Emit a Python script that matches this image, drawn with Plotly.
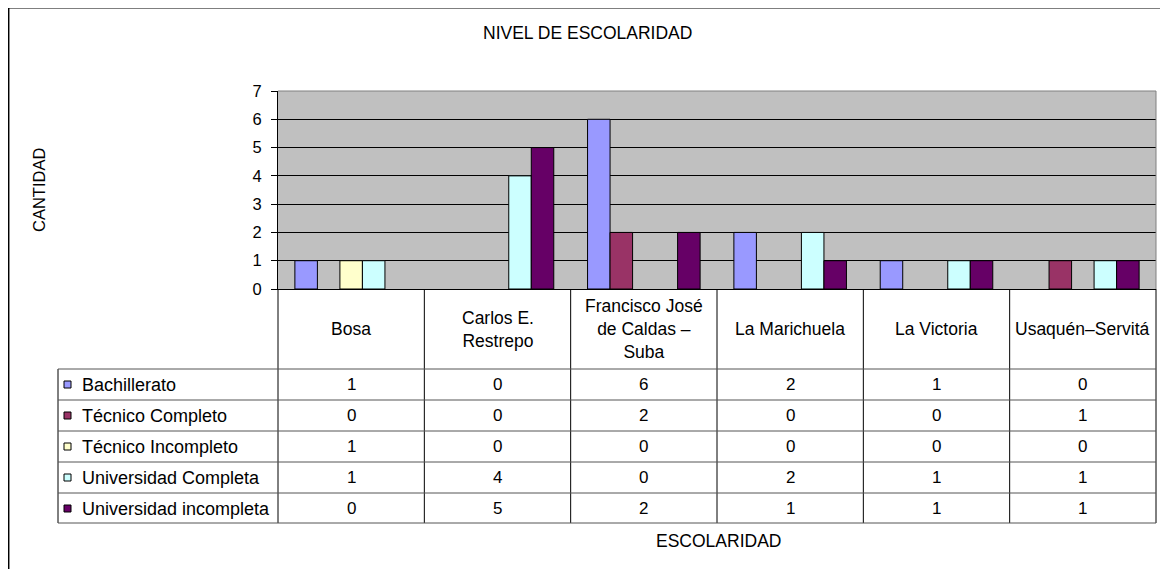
import plotly.graph_objects as go

# ---------------- data ----------------
categories = ["Bosa", "Carlos E. Restrepo", "Francisco José de Caldas – Suba",
              "La Marichuela", "La Victoria", "Usaquén–Servitá"]
header_labels = ["Bosa", "Carlos E.<br>Restrepo", "Francisco José<br>de Caldas –<br>Suba",
                 "La Marichuela", "La Victoria", "Usaquén–Servitá"]
series_names = ["Bachillerato", "Técnico Completo", "Técnico Incompleto",
                "Universidad Completa", "Universidad incompleta"]
bachillerato = [1, 0, 6, 2, 1, 0]
tecnico_completo = [0, 0, 2, 0, 0, 1]
tecnico_incompleto = [1, 0, 0, 0, 0, 0]
universidad_completa = [1, 4, 0, 2, 1, 1]
universidad_incompleta = [0, 5, 2, 1, 1, 1]
series_values = [bachillerato, tecnico_completo, tecnico_incompleto,
                 universidad_completa, universidad_incompleta]
series_colors = ["#9999FF", "#993366", "#FFFFCC", "#CCFFFF", "#660066"]
y_ticks = [0, 1, 2, 3, 4, 5, 6, 7]

# ---------------- layout geometry (page pixels) ----------------
W, H = 1168, 569
OFF = 8  # page offset of the figure (body margin)
PL, PR, PT, PB = 278, 1156, 91, 289
FONT = "Liberation Sans, Arial, sans-serif"
FS = 17.5


def fx(x):
    return (x - PL) / (PR - PL)


def fy(y):
    return (PB - y) / (PB - PT)


x_idx = list(range(len(categories)))

fig = go.Figure()
for name, vals, col in zip(series_names, series_values, series_colors):
    fig.add_trace(go.Bar(
        x=x_idx, y=vals, name=name,
        marker=dict(color=col, line=dict(color="black", width=[1 if v else 0 for v in vals])),
        showlegend=False, hovertext=categories,
    ))

shapes = []
annotations = []

# plot-area border (top and right, grey)
shapes.append(dict(type="line", xref="paper", yref="paper", x0=0, x1=1, y0=1, y1=1,
                   line=dict(color="#808080", width=1)))
shapes.append(dict(type="line", xref="paper", yref="paper", x0=1, x1=1, y0=0, y1=1,
                   line=dict(color="#808080", width=1)))

# table geometry
label_left = 58
row_tops = [369, 400, 431, 462, 493]
table_bottom = 523
ncol = len(categories)
colw = (PR - PL) / ncol

# vertical lines of the table
for i in range(ncol + 1):
    xx = PL + i * colw
    shapes.append(dict(type="line", xref="paper", yref="paper",
                       x0=fx(xx), x1=fx(xx), y0=fy(PB), y1=fy(table_bottom),
                       line=dict(color="black", width=1)))
shapes.append(dict(type="line", xref="paper", yref="paper",
                   x0=fx(label_left), x1=fx(label_left), y0=fy(row_tops[0]), y1=fy(table_bottom),
                   line=dict(color="black", width=1)))
# horizontal lines
for yy in row_tops + [table_bottom]:
    shapes.append(dict(type="line", xref="paper", yref="paper",
                       x0=fx(label_left), x1=fx(PR), y0=fy(yy), y1=fy(yy),
                       line=dict(color="#555555", width=1)))

# header cells
for i, lab in enumerate(header_labels):
    annotations.append(dict(x=i, xref="x", y=fy((PB + row_tops[0]) / 2), yref="paper",
                            text=lab, showarrow=False, xanchor="center", yanchor="middle",
                            font=dict(family=FONT, size=FS, color="black")))

# rows: legend key + values
row_h = row_tops[1] - row_tops[0]
for r, (name, vals, col) in enumerate(zip(series_names, series_values, series_colors)):
    cy = row_tops[r] + row_h / 2
    shapes.append(dict(type="rect", xref="paper", yref="paper",
                       x0=fx(64), x1=fx(71), y0=fy(cy - 3.5), y1=fy(cy + 3.5),
                       fillcolor=col, line=dict(color="black", width=1)))
    annotations.append(dict(x=fx(80), xref="paper", y=fy(cy), yref="paper", text=name,
                            showarrow=False, xanchor="left", yanchor="middle",
                            font=dict(family=FONT, size=18, color="black")))
    for i, v in enumerate(vals):
        annotations.append(dict(x=i, xref="x", y=fy(cy), yref="paper", text=str(v),
                                showarrow=False, xanchor="center", yanchor="middle",
                                font=dict(family=FONT, size=FS - 0.5, color="black")))

# titles
annotations.append(dict(x=fx(587), xref="paper", y=fy(33), yref="paper",
                        text="NIVEL DE ESCOLARIDAD", showarrow=False,
                        xanchor="center", yanchor="middle",
                        font=dict(family=FONT, size=FS, color="black")))
annotations.append(dict(x=fx(39), xref="paper", y=fy(190), yref="paper",
                        text="CANTIDAD", showarrow=False, textangle=-90,
                        xanchor="center", yanchor="middle",
                        font=dict(family=FONT, size=16.5, color="black")))
annotations.append(dict(x=fx(718), xref="paper", y=fy(541), yref="paper",
                        text="ESCOLARIDAD", showarrow=False,
                        xanchor="center", yanchor="middle",
                        font=dict(family=FONT, size=FS, color="black")))

# outer chart frame (left and top edges, at the figure edge)
shapes.append(dict(type="line", xref="paper", yref="paper",
                   x0=fx(8.7), x1=fx(OFF + W), y0=fy(7.7), y1=fy(7.7),
                   line=dict(color="black", width=1.5)))
shapes.append(dict(type="line", xref="paper", yref="paper",
                   x0=fx(8.7), x1=fx(8.7), y0=fy(7.7), y1=fy(OFF + H),
                   line=dict(color="black", width=1.5)))

fig.update_layout(
    width=W, height=H,
    margin=dict(l=PL - OFF, r=W - (PR - OFF), t=PT - OFF, b=H - (PB - OFF), pad=0),
    paper_bgcolor="white", plot_bgcolor="#C0C0C0",
    barmode="group", bargap=1.5 / 6.5, bargroupgap=0,
    font=dict(family=FONT, size=FS, color="black"),
    shapes=shapes, annotations=annotations,
    xaxis=dict(range=[-0.5, ncol - 0.5], showticklabels=False, ticks="",
               showgrid=False, zeroline=False, showline=True,
               linecolor="black", linewidth=1, fixedrange=True),
    yaxis=dict(range=[0, 7], tickvals=y_ticks, showgrid=True, gridcolor="black",
               gridwidth=1, zeroline=False, showline=True, linecolor="black",
               linewidth=1, ticks="outside", ticklen=6, tickcolor="black",
               tickfont=dict(family=FONT, size=16.5, color="black"),
               ticklabelstandoff=6, fixedrange=True),
)

fig.write_html("out.html")
